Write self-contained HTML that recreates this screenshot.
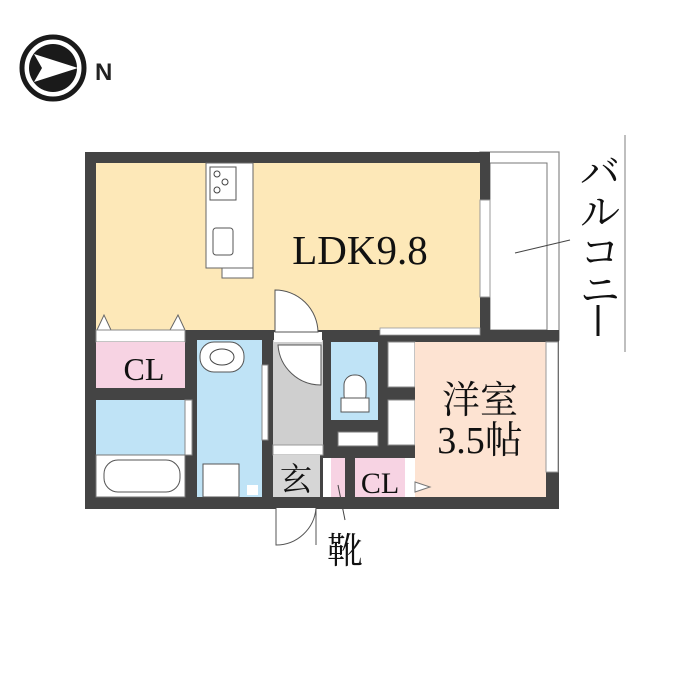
<!DOCTYPE html><html><head><style>body{margin:0;background:#fff}svg{display:block}</style></head><body>
<svg width="700" height="700" viewBox="0 0 700 700" xmlns="http://www.w3.org/2000/svg" font-family="'Liberation Serif','Noto Serif CJK SC',serif">
<rect width="700" height="700" fill="#fff"/>
<circle cx="53" cy="68" r="31" fill="#fff" stroke="#1a1a1a" stroke-width="5"/>
<circle cx="53" cy="68" r="24" fill="#1a1a1a"/>
<polygon points="34,54 78,68 34,82 42,68" fill="#fff"/>
<text x="95" y="80" font-family="'Liberation Sans',sans-serif" font-weight="bold" font-size="24" fill="#222">N</text>
<rect x="480" y="152" width="79" height="188" fill="#fff" stroke="#888" stroke-width="1.2"/>
<rect x="490" y="163" width="57" height="167" fill="#fff" stroke="#777" stroke-width="1"/>
<line x1="515" y1="253" x2="570" y2="240" stroke="#444" stroke-width="1"/>
<line x1="625" y1="135" x2="625" y2="352" stroke="#aaa" stroke-width="1.5"/>
<text font-size="40" fill="#111" font-family="'Noto Serif CJK JP',serif" text-anchor="middle"><tspan x="600" y="186">バ</tspan><tspan x="600" y="226">ル</tspan><tspan x="600" y="266">コ</tspan><tspan x="600" y="304">ニ</tspan></text>
<line x1="598" y1="305" x2="598" y2="336" stroke="#111" stroke-width="3"/>
<rect x="85" y="152" width="405" height="357" fill="#444"/>
<rect x="380" y="330" width="179" height="179" fill="#444"/>
<rect x="96" y="163" width="384" height="167" fill="#fde8b8"/>
<rect x="480" y="200" width="10" height="97" fill="#fff" stroke="#999"/>
<rect x="380" y="328" width="100" height="7" fill="#fff" stroke="#999" stroke-width="0.8"/>
<rect x="206" y="163" width="47" height="105" fill="#fff" stroke="#666"/>
<rect x="222" y="268" width="31" height="10" fill="#fff" stroke="#666"/>
<rect x="210" y="167" width="26" height="33" fill="#fff" stroke="#555"/>
<circle cx="217" cy="174" r="3" fill="none" stroke="#444"/><circle cx="225" cy="182" r="3" fill="none" stroke="#444"/><circle cx="217" cy="190" r="3" fill="none" stroke="#444"/>
<rect x="213" y="228" width="20" height="27" rx="3" fill="#fff" stroke="#555"/>
<polygon points="97,330 104,315 111,330" fill="#fff" stroke="#666"/>
<polygon points="170,330 178,315 185,330" fill="#fff" stroke="#666"/>
<rect x="96" y="330" width="89" height="12" fill="#fff" stroke="#888"/>
<rect x="96" y="342" width="89" height="46" fill="#f7d3e3"/>
<text x="144" y="380" font-size="32" text-anchor="middle" fill="#111">CL</text>
<rect x="96" y="400" width="89" height="55" fill="#bfe3f6"/>
<rect x="185" y="400" width="7" height="55" fill="#fff" stroke="#888"/>
<rect x="96" y="455" width="89" height="42" fill="#fff" stroke="#777"/>
<rect x="104" y="460" width="76" height="32" rx="14" fill="#fff" stroke="#555"/>
<rect x="197" y="340" width="65" height="157" fill="#bfe3f6"/>
<rect x="200" y="342" width="44" height="30" rx="14" fill="#fff" stroke="#555"/>
<ellipse cx="222" cy="357" rx="12" ry="8" fill="#fff" stroke="#444"/>
<rect x="203" y="464" width="36" height="33" fill="#fff" stroke="#555"/>
<rect x="247" y="485" width="11" height="10" fill="#fff"/>
<rect x="262" y="365" width="6" height="75" fill="#fff" stroke="#888"/>
<rect x="273" y="340" width="50" height="105" fill="#cfcfcf"/>
<rect x="273" y="445" width="50" height="10" fill="#fff" stroke="#999"/>
<rect x="273" y="455" width="47" height="42" fill="#d6d6d6"/>
<text x="296" y="490" font-size="32" text-anchor="middle" fill="#111" font-family="'Noto Serif CJK SC',serif">玄</text>
<rect x="274" y="332" width="48" height="10" fill="#fff"/>
<path d="M275,290 L275,332 L318,332 A43,43 0 0 0 275,290 Z" fill="#fff" stroke="#555"/>
<path d="M278,345 A43,43 0 0 0 321,385 L321,345 Z" fill="#fff" stroke="#555"/>
<path d="M276,508 L276,545 A40,40 0 0 0 316,508" fill="#fff" stroke="#555"/>
<line x1="316" y1="508" x2="316" y2="545" stroke="#555"/>
<rect x="331" y="342" width="47" height="78" fill="#bfe3f6"/>
<rect x="344" y="375" width="22" height="30" rx="10" fill="#fff" stroke="#555"/>
<rect x="341" y="398" width="28" height="14" fill="#fff" stroke="#555"/>
<rect x="338" y="432" width="40" height="14" fill="#fff" stroke="#777"/>
<rect x="388" y="342" width="27" height="45" fill="#fff" stroke="#888"/>
<rect x="388" y="400" width="27" height="45" fill="#fff" stroke="#888"/>
<rect x="323" y="458" width="8" height="39" fill="#fff"/>
<rect x="331" y="458" width="14" height="39" fill="#f7d3e3"/>
<rect x="355" y="458" width="50" height="39" fill="#f7d3e3"/>
<rect x="405" y="458" width="10" height="39" fill="#fff"/>
<text x="380" y="493" font-size="30" text-anchor="middle" fill="#111">CL</text>
<line x1="338" y1="485" x2="345" y2="520" stroke="#444"/>
<text x="345" y="563" font-size="36" text-anchor="middle" fill="#111" font-family="'Noto Serif CJK SC',serif">靴</text>
<rect x="415" y="342" width="131" height="155" fill="#fde3d2"/>
<rect x="546" y="342" width="12" height="130" fill="#fff" stroke="#999"/>
<polygon points="415,482 430,487 415,492" fill="#fff" stroke="#777"/>
<text x="480" y="413" font-size="38" text-anchor="middle" fill="#111" font-family="'Noto Serif CJK SC',serif">洋室</text>
<text x="480" y="453" font-size="38" text-anchor="middle" fill="#111" font-family="'Liberation Serif','Noto Serif CJK SC',serif">3.5帖</text>
<text x="360" y="264" font-size="41" text-anchor="middle" fill="#111">LDK9.8</text>
</svg>
</body></html>
